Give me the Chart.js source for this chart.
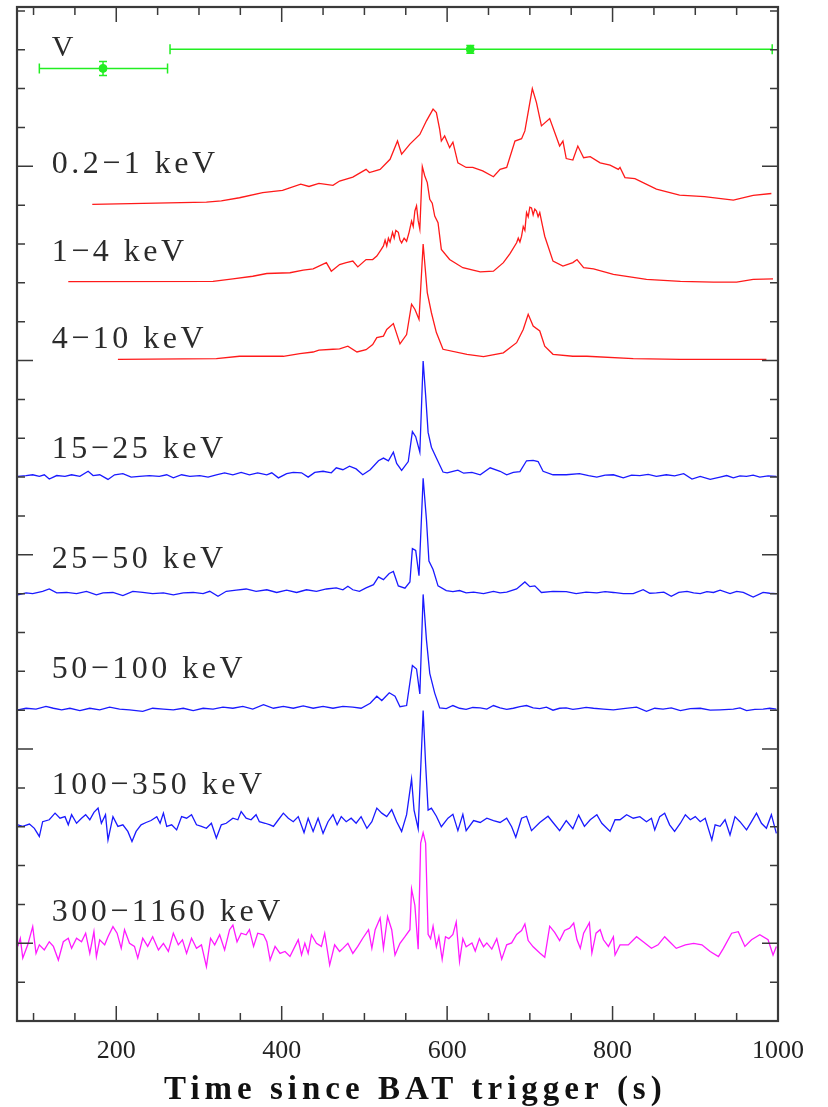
<!DOCTYPE html>
<html>
<head>
<meta charset="utf-8">
<script src="https://cdn.jsdelivr.net/npm/chart.js@4.4.1/dist/chart.umd.min.js"></script>
<style>
  html, body { margin: 0; padding: 0; background: #fff; }
  canvas { display: block; }
</style>
</head>
<body>
<canvas id="lcChart" width="828" height="1107"></canvas>
<script>
// light curves, time since BAT trigger (s) and rate in y-tick units above each band's baseline
const bandNames = ["0.2\u22121 keV", "1\u22124 keV", "4\u221210 keV", "15\u221225 keV",
  "25\u221250 keV", "50\u2212100 keV", "100\u2212350 keV", "300\u22121160 keV"];
const bandBase = [21, 19, 17, 14, 11, 8, 5, 2];

const t1 = [171, 309, 327, 349, 377, 401, 423, 433, 445, 462, 470, 486, 502, 506, 519, 531, 540, 545, 555, 567,
  575, 583, 587, 591, 593, 597, 603, 607, 613, 623, 631, 643, 656, 664, 672, 682, 690, 694, 703, 708,
  714, 724, 736, 740, 744, 752, 758, 765, 773, 785, 797, 807, 809, 815, 827, 853, 881, 911, 946, 970, 992];
const y1 = [0.02, 0.08, 0.11, 0.19, 0.32, 0.38, 0.54, 0.48, 0.56, 0.51, 0.62, 0.72, 0.92, 0.84, 0.92, 1.18, 1.65, 1.31, 1.57, 1.82,
  2.17, 2.47, 2.38, 1.95, 1.65, 1.78, 1.48, 1.62, 1.09, 0.97, 0.97, 0.88, 0.73, 0.92, 0.97, 1.65, 1.71, 1.91, 3.0, 2.64,
  2.04, 2.23, 1.52, 1.65, 1.2, 1.16, 1.52, 1.22, 1.25, 1.09, 1.03, 0.92, 0.97, 0.71, 0.68, 0.41, 0.26, 0.22, 0.13, 0.25, 0.30];

const t2 = [142, 317, 341, 365, 382, 410, 426, 438, 454, 460, 470, 478, 486, 492, 502, 510, 515, 520, 523, 525,
  527, 529, 531, 534, 536, 538, 541, 543, 545, 548, 551, 554, 557, 559, 561, 563, 565, 567, 570, 573,
  576, 579, 582, 585, 589, 593, 603, 619, 640, 656, 668, 676, 684, 686, 688, 690, 692, 694, 696, 698,
  700, 702, 704, 706, 708, 710, 712, 715, 718, 728, 740, 752, 757, 765, 777, 801, 841, 882, 922, 950, 970, 994];
const y2 = [0.03, 0.04, 0.10, 0.17, 0.24, 0.26, 0.33, 0.36, 0.52, 0.30, 0.47, 0.52, 0.56, 0.41, 0.60, 0.60, 0.69, 0.85, 0.95, 1.10,
  0.95, 1.15, 1.05, 1.30, 1.15, 1.35, 1.30, 1.10, 1.03, 1.15, 1.07, 1.30, 1.59, 1.45, 1.85, 1.98, 1.60, 1.38, 2.99, 2.75,
  2.58, 2.15, 2.05, 1.72, 1.55, 0.86, 0.60, 0.39, 0.28, 0.30, 0.52, 0.75, 1.03, 1.15, 1.05, 1.20, 1.45, 1.35, 1.81, 1.70,
  1.95, 1.93, 1.75, 1.90, 1.85, 1.70, 1.81, 1.50, 1.20, 0.56, 0.43, 0.52, 0.60, 0.39, 0.36, 0.22, 0.09, 0.04, 0.02, 0.02, 0.09, 0.10];

const t3 = [202, 321, 349, 382, 402, 422, 438, 445, 462, 470, 480, 491, 502, 510, 515, 523, 527, 535, 543, 551,
  557, 561, 566, 571, 576, 581, 587, 595, 624, 644, 668, 684, 692, 698, 704, 712, 718, 728, 752, 769, 825, 882, 986];
const y3 = [0.03, 0.05, 0.11, 0.11, 0.11, 0.18, 0.22, 0.27, 0.29, 0.30, 0.37, 0.22, 0.28, 0.41, 0.59, 0.63, 0.80, 0.95, 0.43, 0.67,
  1.45, 1.32, 1.06, 3.0, 1.75, 1.23, 0.72, 0.29, 0.16, 0.10, 0.20, 0.46, 0.80, 1.19, 0.89, 0.76, 0.37, 0.16, 0.11, 0.11, 0.05, 0.03, 0.03];

const t4 = [81, 91, 99, 107, 113, 119, 128, 138, 146, 156, 166, 172, 180, 190, 198, 208, 218, 228, 240, 252,
  261, 269, 279, 289, 301, 311, 321, 331, 341, 351, 361, 371, 382, 388, 396, 406, 414, 424, 432, 440,
  450, 460, 466, 474, 482, 490, 498, 507, 517, 523, 529, 535, 539, 545, 553, 558, 562, 567, 571, 574,
  577, 581, 587, 595, 600, 607, 613, 620, 630, 640, 652, 664, 672, 680, 688, 696, 704, 710, 716, 728,
  744, 760, 771, 781, 791, 801, 813, 823, 833, 843, 853, 865, 875, 886, 896, 906, 918, 930, 938, 946,
  954, 962, 970, 978, 988, 998];
const y4 = [0.02, 0.04, 0.06, 0.02, 0.06, -0.05, 0.04, 0.02, 0.06, 0.02, 0.15, 0.04, 0.06, -0.06, 0.06, 0.09, 0.0, 0.02, 0.04, 0.02,
  0.06, -0.02, 0.06, 0.02, 0.04, 0.0, 0.06, 0.11, 0.06, 0.12, 0.06, 0.11, 0.06, 0.11, -0.02, 0.09, 0.12, 0.11, 0.0, 0.12,
  0.15, 0.11, 0.24, 0.19, 0.28, 0.21, 0.06, 0.19, 0.42, 0.49, 0.42, 0.64, 0.35, 0.17, 0.40, 1.17, 1.04, 0.64, 2.99, 2.11,
  1.15, 0.77, 0.49, 0.13, 0.11, 0.15, 0.18, 0.10, 0.12, 0.06, 0.24, 0.15, 0.06, 0.12, 0.14, 0.42, 0.43, 0.40, 0.15, 0.06,
  0.06, 0.09, 0.04, 0.0, 0.05, 0.06, -0.02, 0.05, 0.04, 0.07, 0.02, 0.06, 0.03, 0.09, -0.05, 0.02, -0.06, 0.0, 0.04, -0.02,
  0.03, 0.02, 0.05, 0.0, 0.03, 0.02];

const t5 = [81, 91, 99, 111, 119, 128, 140, 152, 164, 176, 184, 196, 208, 220, 232, 244, 257, 269, 281, 293,
  305, 313, 323, 333, 345, 357, 369, 382, 394, 406, 418, 430, 442, 454, 466, 474, 480, 486, 494, 502,
  511, 517, 523, 530, 535, 541, 549, 555, 558, 562, 566, 571, 575, 578, 583, 589, 599, 607, 615, 623,
  632, 644, 656, 664, 672, 684, 694, 700, 706, 714, 728, 744, 756, 768, 781, 791, 801, 813, 825, 837,
  845, 853, 862, 871, 880, 890, 898, 906, 914, 922, 930, 942, 950, 958, 970, 982, 990, 998];
const y5 = [-0.03, 0.02, 0.0, 0.06, 0.12, 0.02, 0.03, 0.0, 0.06, -0.03, 0.02, 0.03, -0.05, 0.06, 0.03, 0.0, 0.02, -0.03, 0.02, 0.03,
  0.0, 0.06, -0.07, 0.06, 0.09, 0.12, 0.06, 0.10, 0.03, 0.09, 0.03, 0.10, 0.06, 0.12, 0.15, 0.10, 0.19, 0.10, 0.06, 0.15,
  0.23, 0.43, 0.36, 0.52, 0.57, 0.20, 0.14, 0.30, 1.16, 1.11, 0.46, 2.97, 1.91, 0.84, 0.62, 0.20, 0.08, 0.05, 0.08, 0.02,
  0.04, 0.0, 0.06, 0.02, 0.04, 0.12, 0.30, 0.18, 0.20, 0.03, 0.06, 0.05, 0.0, 0.04, 0.02, 0.05, 0.03, 0.0, 0.0, 0.10,
  0.01, 0.02, 0.04, -0.07, 0.03, 0.06, 0.02, 0.0, 0.05, 0.03, 0.09, 0.0, 0.06, 0.03, -0.09, 0.03, 0.01, 0.0];

const t6 = [81, 91, 103, 115, 124, 134, 144, 156, 168, 180, 192, 204, 216, 232, 244, 257, 269, 281, 293, 305,
  317, 329, 341, 353, 365, 378, 390, 402, 414, 426, 438, 450, 462, 474, 486, 496, 507, 515, 521, 530,
  537, 543, 551, 558, 563, 567, 571, 575, 579, 585, 591, 599, 607, 615, 623, 631, 640, 648, 656, 664,
  672, 680, 688, 696, 704, 712, 720, 728, 736, 744, 752, 759, 768, 777, 789, 801, 813, 829, 841, 851,
  861, 871, 882, 894, 906, 918, 930, 946, 954, 962, 972, 982, 990, 998];
const y6 = [0.01, 0.05, 0.03, 0.10, 0.05, 0.01, 0.05, -0.01, 0.05, 0.01, 0.08, 0.03, 0.01, -0.03, 0.05, 0.03, 0.01, 0.05, -0.01, 0.05,
  0.03, 0.08, 0.05, 0.10, 0.03, 0.14, 0.05, 0.10, 0.05, 0.11, 0.05, 0.10, 0.05, 0.10, 0.08, 0.05, 0.18, 0.36, 0.25, 0.45,
  0.36, 0.09, 0.12, 1.15, 1.06, 0.42, 2.98, 1.81, 0.95, 0.44, 0.06, 0.04, 0.12, 0.05, 0.02, 0.07, 0.06, 0.03, 0.12, 0.06,
  0.02, 0.05, 0.09, 0.12, 0.06, 0.04, 0.08, 0.0, 0.05, 0.06, 0.02, 0.04, 0.07, 0.05, 0.03, 0.01, 0.04, 0.08, -0.03, 0.05,
  0.03, 0.06, -0.01, 0.04, 0.05, 0.0, 0.01, 0.03, 0.06, -0.01, 0.02, 0.03, 0.05, 0.03];

const t7 = [81, 87, 95, 101, 107, 111, 119, 126, 132, 138, 142, 146, 152, 158, 163, 168, 173, 178, 182, 187,
  190, 196, 202, 208, 214, 219, 224, 230, 236, 242, 249, 253, 257, 261, 267, 273, 279, 285, 291, 297,
  303, 309, 315, 321, 327, 333, 341, 347, 351, 357, 363, 369, 373, 380, 386, 390, 396, 402, 408, 414,
  420, 427, 432, 438, 444, 450, 456, 462, 467, 472, 478, 484, 490, 496, 503, 509, 515, 521, 527, 533,
  539, 545, 551, 557, 560, 565, 571, 574, 577, 581, 587, 593, 601, 607, 613, 619, 623, 632, 640, 648,
  656, 664, 672, 678, 683, 690, 696, 702, 712, 722, 728, 736, 744, 752, 759, 766, 773, 781, 787, 797,
  803, 809, 817, 825, 833, 841, 847, 851, 857, 863, 869, 875, 882, 888, 894, 900, 906, 912, 920, 924,
  930, 936, 942, 948, 954, 962, 968, 974, 980, 986, 992, 998];
const y7 = [0.05, 0.01, 0.07, -0.04, -0.25, 0.13, 0.18, 0.35, 0.22, 0.26, 0.05, 0.31, 0.09, 0.22, 0.31, 0.18, 0.37, 0.48, 0.09, 0.31,
  -0.34, 0.26, 0.01, 0.05, -0.12, -0.38, -0.12, 0.05, 0.11, 0.16, 0.26, 0.09, 0.35, 0.01, 0.05, -0.08, 0.26, 0.22, 0.31, 0.05,
  0.01, -0.04, 0.09, -0.29, 0.05, 0.09, 0.22, 0.18, 0.39, 0.22, 0.18, 0.31, 0.13, 0.09, 0.05, 0.01, 0.18, 0.35, 0.22, 0.13,
  0.26, -0.15, 0.22, -0.12, 0.22, -0.17, 0.13, 0.31, 0.05, 0.26, 0.13, 0.22, 0.09, 0.26, -0.04, 0.13, 0.48, 0.35, 0.26, 0.44,
  0.13, -0.12, 0.31, 1.23, 0.43, -0.05, 2.99, 1.61, 0.43, 0.48, 0.27, 0.0, 0.22, 0.32, -0.10, 0.32, -0.10, 0.16, 0.11, 0.22,
  0.16, 0.11, 0.22, 0.0, -0.27, 0.22, 0.27, -0.10, 0.11, 0.27, 0.11, -0.10, 0.16, -0.05, 0.30, 0.01, 0.18, 0.31, 0.09, -0.12,
  0.18, 0.18, 0.31, 0.22, 0.26, 0.13, 0.22, -0.08, 0.26, 0.35, 0.05, -0.12, 0.09, 0.31, 0.18, 0.26, 0.13, 0.22, -0.34, 0.05,
  0.01, 0.18, -0.21, 0.26, 0.13, -0.08, 0.13, 0.35, 0.09, -0.04, 0.31, -0.17];

const t8 = [81, 84, 87, 93, 99, 103, 107, 113, 119, 124, 130, 136, 142, 146, 152, 158, 163, 168, 173, 176,
  180, 186, 190, 196, 201, 206, 210, 216, 222, 226, 232, 238, 244, 251, 257, 263, 269, 275, 280, 285,
  291, 297, 303, 309, 314, 319, 325, 331, 337, 341, 346, 351, 357, 361, 366, 371, 378, 382, 386, 392,
  398, 404, 410, 416, 420, 424, 428, 432, 436, 442, 448, 452, 458, 464, 470, 474, 480, 486, 492, 498,
  505, 509, 513, 519, 523, 528, 533, 537, 543, 549, 555, 557, 561, 565, 568, 571, 574, 577, 580, 583,
  587, 590, 594, 598, 602, 607, 611, 615, 619, 623, 630, 634, 639, 644, 648, 654, 660, 666, 672, 678,
  684, 690, 694, 698, 704, 712, 718, 724, 730, 736, 742, 748, 753, 757, 761, 765, 772, 775, 780, 785,
  789, 795, 801, 803, 809, 819, 829, 837, 847, 855, 863, 869, 877, 888, 898, 908, 918, 928, 934, 944,
  952, 960, 968, 978, 988, 994, 998];
const y8 = [-0.08, 0.13, -0.38, -0.04, 0.43, -0.26, -0.04, -0.17, 0.04, -0.08, -0.43, 0.04, 0.13, -0.13, 0.13, 0.04, 0.26, -0.26, 0.30, -0.34,
  0.09, -0.04, 0.17, 0.43, 0.26, -0.13, 0.35, 0.0, -0.08, -0.38, 0.13, -0.08, 0.17, -0.17, 0.0, -0.21, 0.26, -0.04, 0.09, -0.26,
  0.13, -0.13, -0.04, -0.60, 0.13, -0.04, 0.22, -0.17, 0.35, 0.47, 0.04, 0.26, 0.22, 0.35, -0.08, 0.26, 0.22, 0.04, -0.43, -0.08,
  -0.26, -0.21, -0.34, -0.08, 0.09, -0.30, 0.0, -0.26, 0.22, 0.0, -0.08, 0.26, -0.56, -0.04, -0.21, -0.13, 0.0, -0.26, -0.08, 0.13,
  0.35, -0.13, 0.35, 0.65, -0.13, 0.69, 0.35, -0.30, 0.0, 0.17, 0.35, 1.40, 0.98, -0.15, 2.58, 2.85, 2.58, 0.23, 0.12, 0.44,
  -0.09, 0.17, -0.41, 0.17, 0.12, 0.23, 0.55, -0.47, 0.12, -0.09, 0.01, -0.20, 0.12, -0.09, 0.01, -0.15, 0.12, -0.41, -0.04, 0.01,
  0.23, 0.33, 0.50, 0.07, -0.09, -0.25, -0.36, 0.44, 0.28, 0.07, 0.33, 0.39, 0.52, 0.09, -0.13, 0.26, 0.53, -0.25, 0.26, 0.35,
  0.09, -0.08, 0.17, -0.30, -0.04, -0.04, 0.17, 0.04, -0.13, -0.04, 0.17, 0.04, -0.13, -0.04, 0.0, -0.04, -0.21, -0.34, -0.13, 0.26,
  0.30, -0.08, 0.09, 0.22, 0.09, -0.30, -0.08];

// optical V points with time bins
const vTime = [184, 628];
const vTimeLo = [107, 265];
const vTimeHi = [262, 993];
const vLevel = [24.52, 25.01];
const vErr = [0.18, 0.10];

// axis ticks
const xLabelTicks = [200, 400, 600, 800, 1000];
const xMinorTicks = [100, 150, 200, 250, 300, 350, 400, 450, 500, 550, 600, 650, 700, 750, 800, 850, 900, 950, 1000];
const yMinorTicks = [1, 2, 3, 4, 5, 6, 7, 8, 9, 10, 11, 12, 13, 14, 15, 16, 17, 18, 19, 20, 21, 22, 23, 24, 25, 26];
const yMajorTicks = [2, 7, 12, 17, 22];

const bandTimes = [t1, t2, t3, t4, t5, t6, t7, t8];
const bandRates = [y1, y2, y3, y4, y5, y6, y7, y8];
const bandColors = ["#ff1a1a", "#ff1a1a", "#ff1a1a", "#1a1aff", "#1a1aff", "#1a1aff", "#1a1aff", "#ff1aff"];
const vColor = "#22ee22";
const serif = "'Liberation Serif', 'Times New Roman', 'DejaVu Serif', serif";

// label placement (time, level) for each band name
const labelTime = 122;
const labelLevel = [21.82, 19.55, 17.31, 14.48, 11.67, 8.84, 5.85, 2.58];

const datasets = bandTimes.map((ts, i) => ({
  label: bandNames[i],
  data: ts.map((t, j) => ({ x: t, y: bandBase[i] + bandRates[i][j] })),
  borderColor: bandColors[i],
  borderWidth: 1.3,
  pointRadius: 0,
  tension: 0,
  fill: false,
}));
datasets.push({
  label: "V",
  data: vTime.map((t, i) => ({ x: t, y: vLevel[i] })),
  showLine: false,
  pointRadius: 4,
  pointBackgroundColor: vColor,
  pointBorderColor: vColor,
  borderColor: vColor,
});

const errorBars = {
  id: "errorBars",
  afterDatasetsDraw(chart) {
    const { ctx, scales: { x, y } } = chart;
    ctx.save();
    ctx.strokeStyle = vColor;
    ctx.lineWidth = 1.5;
    vTime.forEach((t, i) => {
      const px = x.getPixelForValue(t);
      const py = y.getPixelForValue(vLevel[i]);
      const x0 = x.getPixelForValue(vTimeLo[i]);
      const x1 = x.getPixelForValue(vTimeHi[i]);
      const y0 = y.getPixelForValue(vLevel[i] - vErr[i]);
      const y1v = y.getPixelForValue(vLevel[i] + vErr[i]);
      ctx.beginPath();
      ctx.moveTo(x0, py); ctx.lineTo(x1, py);
      ctx.moveTo(x0, py - 5); ctx.lineTo(x0, py + 5);
      ctx.moveTo(x1, py - 5); ctx.lineTo(x1, py + 5);
      ctx.moveTo(px, y0); ctx.lineTo(px, y1v);
      ctx.moveTo(px - 4, y0); ctx.lineTo(px + 4, y0);
      ctx.moveTo(px - 4, y1v); ctx.lineTo(px + 4, y1v);
      ctx.stroke();
    });
    ctx.restore();
  },
};

const frameTicks = {
  id: "frameTicks",
  afterDatasetsDraw(chart) {
    const { ctx, chartArea: a, scales: { x, y } } = chart;
    ctx.save();
    ctx.strokeStyle = "#3a3a3a";
    ctx.lineWidth = 1.5;
    ctx.beginPath();
    xMinorTicks.forEach(v => {
      const px = x.getPixelForValue(v);
      const len = xLabelTicks.includes(v) ? 15 : 8;
      ctx.moveTo(px, a.bottom); ctx.lineTo(px, a.bottom - len);
      ctx.moveTo(px, a.top); ctx.lineTo(px, a.top + len);
    });
    yMinorTicks.forEach(v => {
      const py = y.getPixelForValue(v);
      const len = yMajorTicks.includes(v) ? 16 : 8;
      ctx.moveTo(a.left, py); ctx.lineTo(a.left + len, py);
      ctx.moveTo(a.right, py); ctx.lineTo(a.right - len, py);
    });
    ctx.stroke();
    ctx.lineWidth = 2.2;
    ctx.strokeRect(a.left, a.top, a.right - a.left, a.bottom - a.top);
    ctx.restore();
  },
};

const textLabels = {
  id: "textLabels",
  afterDraw(chart) {
    const { ctx, chartArea: a, scales: { x, y } } = chart;
    ctx.save();
    ctx.fillStyle = "#2b2b2b";
    ctx.textBaseline = "alphabetic";
    ctx.textAlign = "left";
    ctx.font = "32px " + serif;
    ctx.letterSpacing = "3.5px";
    bandNames.forEach((name, i) => {
      ctx.fillText(name, x.getPixelForValue(labelTime), y.getPixelForValue(labelLevel[i]));
    });
    ctx.letterSpacing = "0px";
    ctx.font = "30px " + serif;
    ctx.fillText("V", x.getPixelForValue(labelTime), y.getPixelForValue(24.83));
    ctx.font = "bold 33px " + serif;
    ctx.letterSpacing = "5px";
    ctx.fillStyle = "#111";
    ctx.fillText("Time since BAT trigger (s)", a.left + 147, 1099);
    ctx.restore();
  },
};

const ctx = document.getElementById("lcChart").getContext("2d");
new Chart(ctx, {
  type: "line",
  data: { datasets },
  options: {
    responsive: false,
    animation: false,
    layout: { padding: { left: 17, right: 50, top: 7, bottom: 0 } },
    plugins: {
      legend: { display: false },
      tooltip: { enabled: false },
    },
    scales: {
      x: {
        type: "linear",
        min: 80,
        max: 1000,
        afterBuildTicks: s => { s.ticks = xLabelTicks.map(v => ({ value: v })); },
        afterFit: s => { s.height = 86; },
        grid: { display: false, drawTicks: false },
        border: { display: false },
        ticks: {
          font: { family: serif, size: 26 },
          color: "#222",
          padding: 15,
          maxRotation: 0,
          autoSkip: false,
          callback: v => String(v),
        },
      },
      y: {
        display: false,
        min: 0,
        max: 26.1,
      },
    },
  },
  plugins: [errorBars, frameTicks, textLabels],
});
</script>
</body>
</html>
